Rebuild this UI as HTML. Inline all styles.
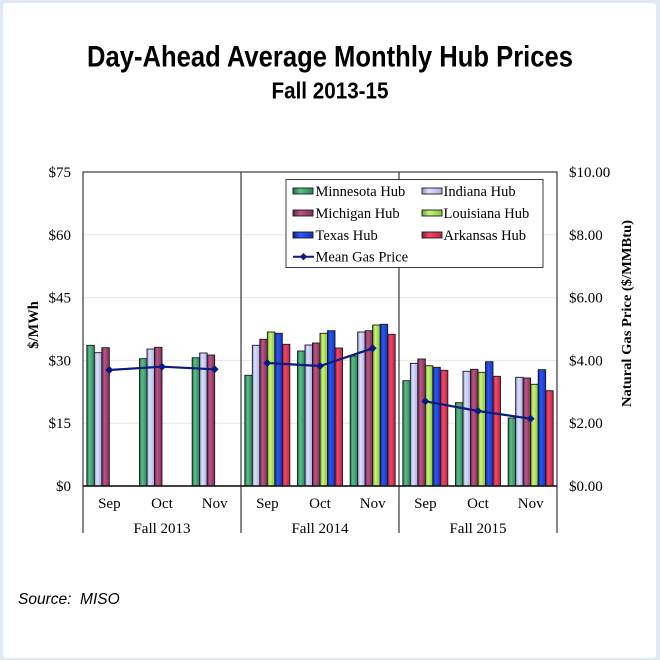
<!DOCTYPE html>
<html>
<head>
<meta charset="utf-8">
<style>
  html,body{margin:0;padding:0;width:660px;height:660px;overflow:hidden;background:#e2e8f2;}
  .panel{position:absolute;left:3px;top:3px;width:653px;height:655px;background:#fff;border-radius:3px;}
  svg{position:absolute;left:0;top:0;}
  .serif{font-family:"Liberation Serif","DejaVu Serif",serif;}
  .sans{font-family:"Liberation Sans","DejaVu Sans",sans-serif;}
</style>
</head>
<body>
<div class="panel"></div>
<svg width="660" height="660" viewBox="0 0 660 660" xmlns="http://www.w3.org/2000/svg">
  <defs>
    <linearGradient id="gG" x1="0" x2="1" y1="0" y2="0"><stop offset="0" stop-color="#1f7247"/><stop offset="0.35" stop-color="#5cbf8a"/><stop offset="1" stop-color="#2a8555"/></linearGradient>
    <linearGradient id="gL" x1="0" x2="1" y1="0" y2="0"><stop offset="0" stop-color="#8f96d6"/><stop offset="0.35" stop-color="#dde0fa"/><stop offset="1" stop-color="#a7aee6"/></linearGradient>
    <linearGradient id="gM" x1="0" x2="1" y1="0" y2="0"><stop offset="0" stop-color="#6e1f47"/><stop offset="0.35" stop-color="#b95886"/><stop offset="1" stop-color="#842a58"/></linearGradient>
    <linearGradient id="gY" x1="0" x2="1" y1="0" y2="0"><stop offset="0" stop-color="#6aa824"/><stop offset="0.35" stop-color="#c9f27d"/><stop offset="1" stop-color="#86c83a"/></linearGradient>
    <linearGradient id="gB" x1="0" x2="1" y1="0" y2="0"><stop offset="0" stop-color="#0a1f9c"/><stop offset="0.35" stop-color="#2e58f0"/><stop offset="1" stop-color="#1234c8"/></linearGradient>
    <linearGradient id="gR" x1="0" x2="1" y1="0" y2="0"><stop offset="0" stop-color="#9c1530"/><stop offset="0.35" stop-color="#ee4a6a"/><stop offset="1" stop-color="#c42142"/></linearGradient>
  </defs>

  <!-- Titles -->
  <text x="330" y="66.5" text-anchor="middle" class="sans" font-weight="bold" font-size="30" textLength="486" lengthAdjust="spacingAndGlyphs" fill="#000">Day-Ahead Average Monthly Hub Prices</text>
  <text x="330" y="98.5" text-anchor="middle" class="sans" font-weight="bold" font-size="23" textLength="117" lengthAdjust="spacingAndGlyphs" fill="#000">Fall 2013-15</text>

  <!-- Gridlines -->
  <g stroke="#e6e6e6" stroke-width="1">
    <line x1="83" y1="234.8" x2="557" y2="234.8"/>
    <line x1="83" y1="297.6" x2="557" y2="297.6"/>
    <line x1="83" y1="360.4" x2="557" y2="360.4"/>
    <line x1="83" y1="423.2" x2="557" y2="423.2"/>
  </g>

  <!-- Bars -->
  <g stroke="#1a1a1a" stroke-width="0.9">
    <!-- Fall 2013 Sep -->
    <rect x="86.83" y="345.3" width="7.5" height="140.7" fill="url(#gG)"/>
    <rect x="94.33" y="352.7" width="7.5" height="133.3" fill="url(#gL)"/>
    <rect x="101.83" y="347.7" width="7.5" height="138.3" fill="url(#gM)"/>
    <!-- Oct -->
    <rect x="139.5" y="358.7" width="7.5" height="127.3" fill="url(#gG)"/>
    <rect x="147" y="349" width="7.5" height="137" fill="url(#gL)"/>
    <rect x="154.5" y="347.3" width="7.5" height="138.7" fill="url(#gM)"/>
    <!-- Nov -->
    <rect x="192.17" y="357.7" width="7.5" height="128.3" fill="url(#gG)"/>
    <rect x="199.67" y="353" width="7.5" height="133" fill="url(#gL)"/>
    <rect x="207.17" y="355" width="7.5" height="131" fill="url(#gM)"/>

    <!-- Fall 2014 Sep -->
    <rect x="244.83" y="375.3" width="7.5" height="110.7" fill="url(#gG)"/>
    <rect x="252.33" y="345.3" width="7.5" height="140.7" fill="url(#gL)"/>
    <rect x="259.83" y="339.3" width="7.5" height="146.7" fill="url(#gM)"/>
    <rect x="267.33" y="332" width="7.5" height="154" fill="url(#gY)"/>
    <rect x="274.83" y="333.3" width="7.5" height="152.7" fill="url(#gB)"/>
    <rect x="282.33" y="344.3" width="7.5" height="141.7" fill="url(#gR)"/>
    <!-- Oct -->
    <rect x="297.5" y="351" width="7.5" height="135" fill="url(#gG)"/>
    <rect x="305" y="345" width="7.5" height="141" fill="url(#gL)"/>
    <rect x="312.5" y="343" width="7.5" height="143" fill="url(#gM)"/>
    <rect x="320" y="333.3" width="7.5" height="152.7" fill="url(#gY)"/>
    <rect x="327.5" y="330.7" width="7.5" height="155.3" fill="url(#gB)"/>
    <rect x="335" y="348" width="7.5" height="138" fill="url(#gR)"/>
    <!-- Nov -->
    <rect x="350.17" y="356" width="7.5" height="130" fill="url(#gG)"/>
    <rect x="357.67" y="332" width="7.5" height="154" fill="url(#gL)"/>
    <rect x="365.17" y="330.7" width="7.5" height="155.3" fill="url(#gM)"/>
    <rect x="372.67" y="325" width="7.5" height="161" fill="url(#gY)"/>
    <rect x="380.17" y="324.3" width="7.5" height="161.7" fill="url(#gB)"/>
    <rect x="387.67" y="334.3" width="7.5" height="151.7" fill="url(#gR)"/>

    <!-- Fall 2015 Sep -->
    <rect x="402.83" y="380.7" width="7.5" height="105.3" fill="url(#gG)"/>
    <rect x="410.33" y="363.3" width="7.5" height="122.7" fill="url(#gL)"/>
    <rect x="417.83" y="359" width="7.5" height="127" fill="url(#gM)"/>
    <rect x="425.33" y="365.7" width="7.5" height="120.3" fill="url(#gY)"/>
    <rect x="432.83" y="367.3" width="7.5" height="118.7" fill="url(#gB)"/>
    <rect x="440.33" y="370.3" width="7.5" height="115.7" fill="url(#gR)"/>
    <!-- Oct -->
    <rect x="455.5" y="402.7" width="7.5" height="83.3" fill="url(#gG)"/>
    <rect x="463" y="371.3" width="7.5" height="114.7" fill="url(#gL)"/>
    <rect x="470.5" y="369.3" width="7.5" height="116.7" fill="url(#gM)"/>
    <rect x="478" y="372.3" width="7.5" height="113.7" fill="url(#gY)"/>
    <rect x="485.5" y="361.7" width="7.5" height="124.3" fill="url(#gB)"/>
    <rect x="493" y="376.3" width="7.5" height="109.7" fill="url(#gR)"/>
    <!-- Nov -->
    <rect x="508.17" y="418" width="7.5" height="68" fill="url(#gG)"/>
    <rect x="515.67" y="377.3" width="7.5" height="108.7" fill="url(#gL)"/>
    <rect x="523.17" y="378" width="7.5" height="108" fill="url(#gM)"/>
    <rect x="530.67" y="384.3" width="7.5" height="101.7" fill="url(#gY)"/>
    <rect x="538.17" y="369.7" width="7.5" height="116.3" fill="url(#gB)"/>
    <rect x="545.67" y="390.7" width="7.5" height="95.3" fill="url(#gR)"/>
  </g>

  <!-- Gas lines -->
  <g stroke="#0b1a80" stroke-width="2.2" fill="none">
    <polyline points="109.33,370 162,366.7 214.67,369.3"/>
    <polyline points="267.33,363 320,366 372.67,348.3"/>
    <polyline points="425.33,401.3 478,411 530.67,418.7"/>
  </g>
  <g fill="#0b1a80">
    <path d="M109.33,366 l4,4 l-4,4 l-4,-4z"/>
    <path d="M162,362.7 l4,4 l-4,4 l-4,-4z"/>
    <path d="M214.67,365.3 l4,4 l-4,4 l-4,-4z"/>
    <path d="M267.33,359 l4,4 l-4,4 l-4,-4z"/>
    <path d="M320,362 l4,4 l-4,4 l-4,-4z"/>
    <path d="M372.67,344.3 l4,4 l-4,4 l-4,-4z"/>
    <path d="M425.33,397.3 l4,4 l-4,4 l-4,-4z"/>
    <path d="M478,407 l4,4 l-4,4 l-4,-4z"/>
    <path d="M530.67,414.7 l4,4 l-4,4 l-4,-4z"/>
  </g>

  <!-- Frame and dividers -->
  <g stroke="#3a3a3a" stroke-width="1.2" fill="none">
    <rect x="83" y="172" width="474" height="314"/>
    <line x1="241" y1="172" x2="241" y2="533"/>
    <line x1="399" y1="172" x2="399" y2="533"/>
    <line x1="83" y1="486" x2="83" y2="533"/>
    <line x1="557" y1="486" x2="557" y2="533"/>
  </g>
  <line x1="83" y1="486" x2="557" y2="486" stroke="#111" stroke-width="1.5"/>

  <!-- Legend -->
  <rect x="286" y="179.5" width="257" height="88" fill="#fff" stroke="#3a3a3a" stroke-width="1"/>
  <g stroke="#1a1a1a" stroke-width="0.9">
    <rect x="293" y="188" width="20" height="6" fill="url(#gG)"/>
    <rect x="293" y="210" width="20" height="6" fill="url(#gM)"/>
    <rect x="293" y="232" width="20" height="6" fill="url(#gB)"/>
    <rect x="422" y="188" width="20" height="6" fill="url(#gL)"/>
    <rect x="422" y="210" width="20" height="6" fill="url(#gY)"/>
    <rect x="422" y="232" width="20" height="6" fill="url(#gR)"/>
  </g>
  <line x1="293" y1="256.7" x2="314" y2="256.7" stroke="#0b1a80" stroke-width="2"/>
  <path d="M303.5,253 l3.7,3.7 l-3.7,3.7 l-3.7,-3.7z" fill="#0b1a80"/>
  <g class="serif" font-size="14.5" fill="#000">
    <text x="315.5" y="196">Minnesota Hub</text>
    <text x="315.5" y="218">Michigan Hub</text>
    <text x="315.5" y="240">Texas Hub</text>
    <text x="315.5" y="261.5">Mean Gas Price</text>
    <text x="443.5" y="196">Indiana Hub</text>
    <text x="443.5" y="218">Louisiana Hub</text>
    <text x="443.5" y="240">Arkansas Hub</text>
  </g>

  <!-- Left axis labels -->
  <g class="serif" font-size="15" fill="#000" text-anchor="end">
    <text x="71" y="177">$75</text>
    <text x="71" y="239.8">$60</text>
    <text x="71" y="302.6">$45</text>
    <text x="71" y="365.4">$30</text>
    <text x="71" y="428.2">$15</text>
    <text x="71" y="491">$0</text>
  </g>
  <text transform="translate(38,325) rotate(-90)" text-anchor="middle" class="serif" font-weight="bold" font-size="14.5" fill="#000">$/MWh</text>

  <!-- Right axis labels -->
  <g class="serif" font-size="15" fill="#000">
    <text x="569" y="177">$10.00</text>
    <text x="569" y="239.8">$8.00</text>
    <text x="569" y="302.6">$6.00</text>
    <text x="569" y="365.4">$4.00</text>
    <text x="569" y="428.2">$2.00</text>
    <text x="569" y="491">$0.00</text>
  </g>
  <text transform="translate(631,313.5) rotate(-90)" text-anchor="middle" class="serif" font-weight="bold" font-size="14" textLength="187" lengthAdjust="spacingAndGlyphs" fill="#000">Natural Gas Price ($/MMBtu)</text>

  <!-- Category labels -->
  <g class="serif" font-size="15" fill="#000" text-anchor="middle">
    <text x="109.33" y="508">Sep</text>
    <text x="162" y="508">Oct</text>
    <text x="214.67" y="508">Nov</text>
    <text x="267.33" y="508">Sep</text>
    <text x="320" y="508">Oct</text>
    <text x="372.67" y="508">Nov</text>
    <text x="425.33" y="508">Sep</text>
    <text x="478" y="508">Oct</text>
    <text x="530.67" y="508">Nov</text>
    <text x="162" y="533">Fall 2013</text>
    <text x="320" y="533">Fall 2014</text>
    <text x="478" y="533">Fall 2015</text>
  </g>

  <!-- Source -->
  <text x="18" y="604" class="sans" font-style="italic" font-size="15.5" fill="#000" xml:space="preserve">Source:  MISO</text>
</svg>
</body>
</html>
